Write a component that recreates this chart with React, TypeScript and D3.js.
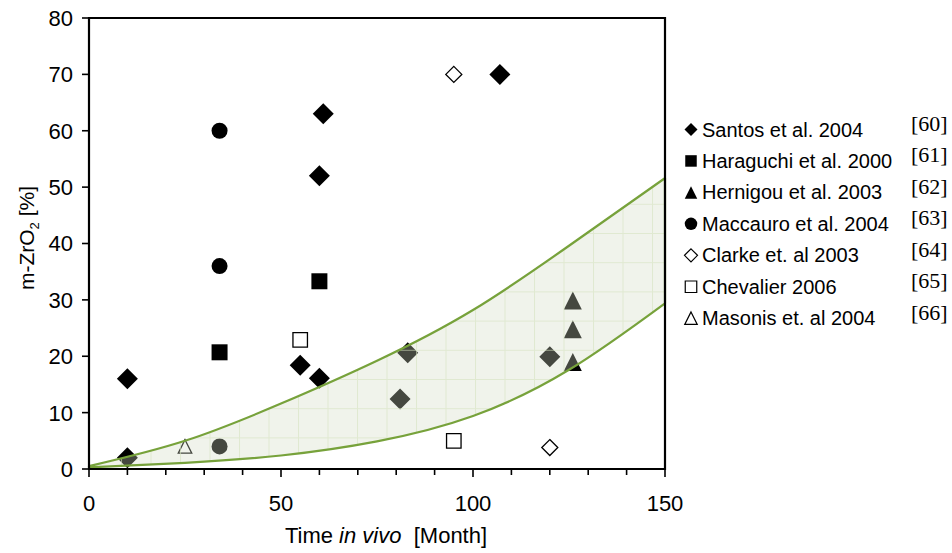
import React from 'react';
import * as d3 from 'd3';

// m-ZrO2 content vs. time in vivo, literature scatter with a shaded band.

const WIDTH = 952;
const HEIGHT = 553;
const PLOT = { left: 89, right: 665, top: 18, bottom: 469 };
const FONT = '"Liberation Sans", Arial, sans-serif';

const X_MAJOR = [0, 50, 100, 150];
const X_MINOR = [10, 20, 30, 40, 60, 70, 80, 90, 110, 120, 130, 140];
const Y_TICKS = [0, 10, 20, 30, 40, 50, 60, 70, 80];

// band edges: [month, %]
const BAND_UPPER = [[0, 0.5], [25, 5], [50, 11.6], [75, 19.2], [100, 28.2], [125, 39.6], [150, 51.6]];
const BAND_LOWER = [[0, 0.3], [25, 1.1], [50, 2.4], [75, 4.9], [100, 9.4], [125, 17.6], [150, 29.4]];

const SANTOS = [[10, 16], [10, 2], [61, 63], [60, 52], [55, 18.4], [60, 16.1], [107, 70], [83, 20.6], [81, 12.4], [120, 19.9]];
const HARAGUCHI = [[34, 20.7], [60, 33.3]];
const HERNIGOU = [[126, 19], [126, 24.8], [126, 29.9]];
const MACCAURO = [[34, 60], [34, 36], [34, 4]];
const CLARKE = [[95, 70], [120, 3.8]];
const CHEVALIER = [[55, 22.9], [95, 5]];
const MASONIS = [[25, 4]];

const SERIES = [
  { name: 'Santos et al. 2004', ref: '[60]', shape: 'diamond', filled: true, data: SANTOS },
  { name: 'Haraguchi et al. 2000', ref: '[61]', shape: 'square', filled: true, data: HARAGUCHI },
  { name: 'Hernigou et al. 2003', ref: '[62]', shape: 'triangle', filled: true, data: HERNIGOU },
  { name: 'Maccauro et al. 2004', ref: '[63]', shape: 'circle', filled: true, data: MACCAURO },
  { name: 'Clarke et. al 2003', ref: '[64]', shape: 'diamond', filled: false, data: CLARKE },
  { name: 'Chevalier 2006', ref: '[65]', shape: 'square', filled: false, data: CHEVALIER },
  { name: 'Masonis et. al 2004', ref: '[66]', shape: 'triangle', filled: false, data: MASONIS },
];

function shapePath(shape: string, size: number) {
  const r = size / 2;
  if (shape === 'diamond') return `M0,${-r}L${r},0L0,${r}L${-r},0Z`;
  if (shape === 'square') return `M${-r},${-r}H${r}V${r}H${-r}Z`;
  if (shape === 'triangle') return `M0,${-r}L${r},${r}L${-r},${r}Z`;
  return `M${r},0A${r},${r} 0 1,1 ${-r},0A${r},${r} 0 1,1 ${r},0Z`;
}

// marker sizes in the plot (filled / open)
const PLOT_SIZE: Record<string, [number, number]> = {
  diamond: [21, 16],
  square: [16, 14.5],
  triangle: [18, 13.5],
  circle: [16, 16],
};
const LEGEND_SIZE: Record<string, number> = { diamond: 13, square: 11.5, triangle: 12.5, circle: 12.5 };

export default function App() {
  const x = d3.scaleLinear().domain([0, 150]).range([PLOT.left, PLOT.right]);
  const y = d3.scaleLinear().domain([0, 80]).range([PLOT.bottom, PLOT.top]);

  const line = d3
    .line<number[]>()
    .x((d) => x(d[0]))
    .y((d) => y(d[1]))
    .curve(d3.curveNatural);

  const upperPath = line(BAND_UPPER) ?? '';
  const lowerRev = (line([...BAND_LOWER].reverse()) ?? '').replace(/^M/, 'L');
  const bandPath = `${upperPath}${lowerRev}Z`;

  const legendY0 = 129.5;
  const legendStep = 31.45;

  return (
    <svg width={WIDTH} height={HEIGHT} style={{ display: 'block', position: 'absolute', left: 0, top: 0 }}>
      <defs>
        <pattern id="bandgrid" patternUnits="userSpaceOnUse" x={593} y={233} width={29.5} height={29.2}>
          <path d="M0.5,0V29.2M0,0.5H29.5" stroke="#d6e2c0" strokeWidth={1} fill="none" opacity={0.6} />
        </pattern>
      </defs>
      <rect width={WIDTH} height={HEIGHT} fill="#fff" />

      {/* markers */}
      <g>
        {SERIES.map((s) =>
          s.data.map((d, i) => (
            <path
              key={`${s.name}-${i}`}
              d={shapePath(s.shape, PLOT_SIZE[s.shape][s.filled ? 0 : 1])}
              transform={`translate(${x(d[0])},${y(d[1])})`}
              fill={s.filled ? '#000' : '#fff'}
              stroke="#000"
              strokeWidth={s.filled ? 0 : 1.3}
            />
          )),
        )}
      </g>

      {/* band drawn over the markers */}
      <path d={bandPath} fill="#d2dcc2" fillOpacity={0.33} stroke="none" />
      <path d={bandPath} fill="url(#bandgrid)" stroke="none" />
      <path d={bandPath} fill="none" stroke="#77a23b" strokeWidth={2.2} strokeLinejoin="round" />

      {/* frame */}
      <path
        d={`M${PLOT.left},${PLOT.top}H${PLOT.right}V${PLOT.bottom}H${PLOT.left}Z`}
        fill="none"
        stroke="#000"
        strokeWidth={2.2}
      />

      {/* y axis */}
      {Y_TICKS.map((t) => (
        <g key={`y${t}`}>
          <line x1={PLOT.left - 7} x2={PLOT.left} y1={y(t)} y2={y(t)} stroke="#000" strokeWidth={1.6} />
          <text x={73} y={y(t)} dy="0.36em" textAnchor="end" fontFamily={FONT} fontSize={22}>
            {t}
          </text>
        </g>
      ))}

      {/* x axis */}
      {X_MINOR.map((t) => (
        <line key={`xm${t}`} x1={x(t)} x2={x(t)} y1={PLOT.bottom} y2={PLOT.bottom + 6} stroke="#000" strokeWidth={1.6} />
      ))}
      {X_MAJOR.map((t) => (
        <g key={`x${t}`}>
          <line x1={x(t)} x2={x(t)} y1={PLOT.bottom} y2={PLOT.bottom + 8} stroke="#000" strokeWidth={1.6} />
          <text x={x(t)} y={511} textAnchor="middle" fontFamily={FONT} fontSize={22}>
            {t}
          </text>
        </g>
      ))}

      {/* axis titles */}
      <text x={386} y={543} textAnchor="middle" fontFamily={FONT} fontSize={22}>
        Time <tspan fontStyle="italic">in vivo</tspan>{'\u00a0 '}[Month]
      </text>
      <text
        transform="translate(34,238) rotate(-90)"
        textAnchor="middle"
        fontFamily={FONT}
        fontSize={21}
      >
        m-ZrO
        <tspan fontSize={13} dy={5}>
          2
        </tspan>
        <tspan dy={-5}> [%]</tspan>
      </text>

      {/* legend */}
      {SERIES.map((s, i) => {
        const cy = legendY0 + i * legendStep;
        return (
          <g key={`lg${i}`}>
            <path
              d={shapePath(s.shape, LEGEND_SIZE[s.shape])}
              transform={`translate(691,${cy})`}
              fill={s.filled ? '#000' : '#fff'}
              stroke="#000"
              strokeWidth={s.filled ? 0 : 1.2}
            />
            <text x={702} y={cy + 7} fontFamily={FONT} fontSize={20}>
              {s.name}
            </text>
            <text x={911} y={cy + 1.5} fontFamily='"Liberation Serif", "DejaVu Serif", serif' fontSize={22}>
              {s.ref}
            </text>
          </g>
        );
      })}
    </svg>
  );
}
